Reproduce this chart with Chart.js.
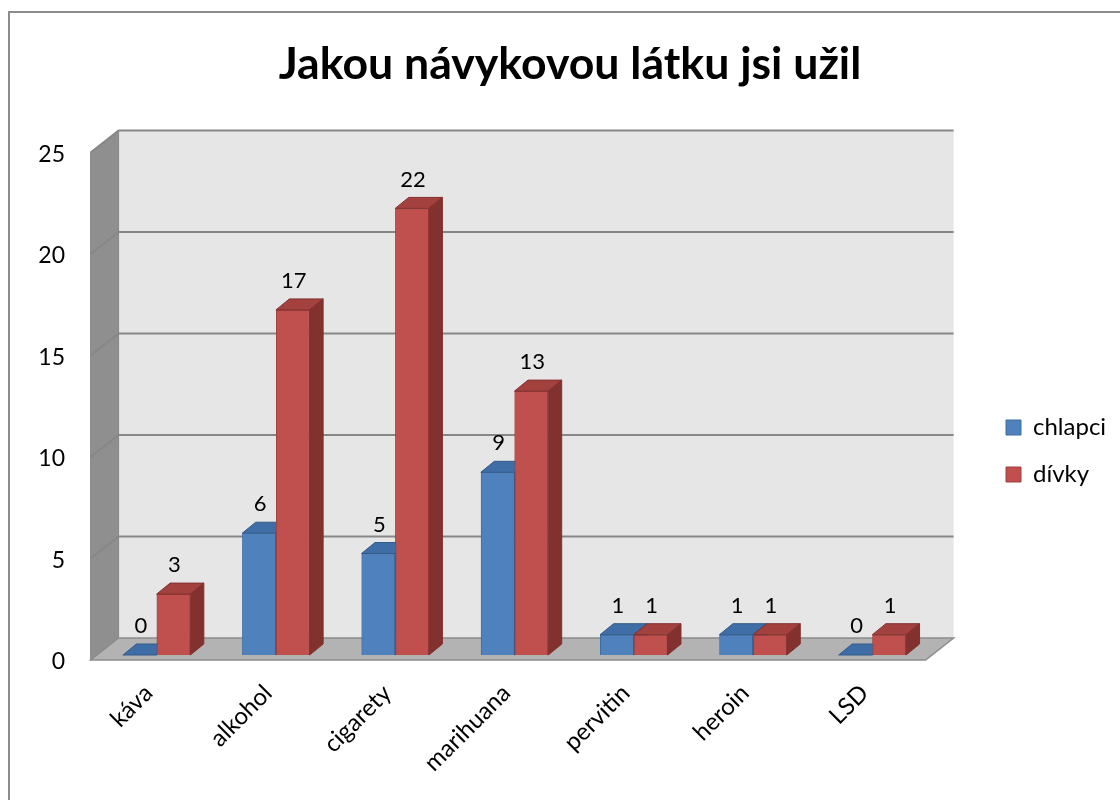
<!DOCTYPE html>
<html>
<head>
<meta charset="utf-8">
<script src="https://cdn.jsdelivr.net/npm/chart.js@4/dist/chart.umd.min.js"></script>
<style>
html,body{margin:0;padding:0;background:#fff;}
canvas{display:block;}
</style>
</head>
<body>
<canvas id="c" width="1120" height="800"></canvas>
<script>
// ---- data ----
const categories = ['káva', 'alkohol', 'cigarety', 'marihuana', 'pervitin', 'heroin', 'LSD'];
const chlapci = [0, 6, 5, 9, 1, 1, 0];
const divky = [3, 17, 22, 13, 1, 1, 1];
const seriesNames = ['chlapci', 'dívky'];
const yTickStep = 5;
const yMax = 25;
const titleText = 'Jakou návykovou látku jsi užil';

// ---- styles ----
const FONT = 'Lato';
const colors = [
  {front: '#4F81BD', border: '#3D6CA3', top: '#3F6DA5', side: '#335A88'},
  {front: '#C0504D', border: '#A03F3C', top: '#A2413E', side: '#82312F'}
];
const barDepth = {x: 13.5, y: -11};
const frontOff = {x: -6.4, y: 5};
const backOff = {x: 21.6, y: -17};
const plotLeft = 97;
const plotRight = 932;
const titleCenter = 570;
const legendPad = 23;
const legendFont = 24;

const mctx = document.createElement('canvas').getContext('2d');
mctx.font = legendFont + 'px ' + FONT;
const legendTextW = Math.max(...seriesNames.map(s => mctx.measureText(s).width));
const legendW = legendPad + 15 + legendFont / 2 + legendTextW + 10;
const padRight = 1120 - plotRight - legendW;

function poly(ctx, pts, fill, stroke, lw) {
  ctx.beginPath();
  ctx.moveTo(pts[0][0], pts[0][1]);
  for (let i = 1; i < pts.length; i++) ctx.lineTo(pts[i][0], pts[i][1]);
  ctx.closePath();
  if (fill) { ctx.fillStyle = fill; ctx.fill(); }
  if (stroke) { ctx.strokeStyle = stroke; ctx.lineWidth = lw || 1; ctx.stroke(); }
}

const scene3d = {
  id: 'scene3d',
  afterLayout(chart) {
    const lg = chart.legend;
    if (lg) {
      const dx = chart.chartArea.right + 74 - legendPad - lg.left;
      lg.left += dx; lg.right += dx;
      lg.top += 51; lg.bottom += 51;
    }
    const tb = chart.titleBlock;
    if (tb) {
      const dx = titleCenter - (tb.left + tb.right) / 2;
      tb.left += dx; tb.right += dx;
    }
  },
  beforeDraw(chart) {
    const ctx = chart.ctx;
    ctx.save();
    ctx.strokeStyle = '#8C8C8C';
    ctx.lineWidth = 2;
    ctx.strokeRect(9, 12, 1300, 1000);
    ctx.restore();
  },
  beforeDatasetsDraw(chart) {
    const {ctx, chartArea: a} = chart;
    const ys = chart.scales.y;
    const y0 = ys.getPixelForValue(ys.min);
    const yT = ys.getPixelForValue(ys.max);
    ctx.save();
    // back wall
    poly(ctx, [[a.left + backOff.x, yT + backOff.y], [a.right + backOff.x, yT + backOff.y],
               [a.right + backOff.x, y0 + backOff.y], [a.left + backOff.x, y0 + backOff.y]], '#E6E6E6');
    // side wall
    poly(ctx, [[a.left + frontOff.x, yT + frontOff.y], [a.left + backOff.x, yT + backOff.y],
               [a.left + backOff.x, y0 + backOff.y], [a.left + frontOff.x, y0 + frontOff.y]], '#8F8F8F', '#868686', 1);
    // floor
    poly(ctx, [[a.left + frontOff.x, y0 + frontOff.y], [a.left + backOff.x, y0 + backOff.y],
               [a.right + backOff.x, y0 + backOff.y], [a.right + frontOff.x, y0 + frontOff.y]], '#B3B3B3', '#8C8C8C', 1.5);
    // gridlines
    ctx.strokeStyle = '#878787';
    ctx.lineWidth = 2;
    ys.ticks.forEach(t => {
      if (t.value === ys.min) return;
      const py = ys.getPixelForValue(t.value);
      ctx.beginPath();
      ctx.moveTo(a.left + frontOff.x, py + frontOff.y);
      ctx.lineTo(a.left + backOff.x, py + backOff.y);
      ctx.lineTo(a.right + backOff.x, py + backOff.y);
      ctx.stroke();
    });
    ctx.restore();
  },
  afterDatasetsDraw(chart) {
    const ctx = chart.ctx;
    ctx.save();
    const n = categories.length;
    for (let i = 0; i < n; i++) {
      for (let d = 0; d < chart.data.datasets.length; d++) {
        const el = chart.getDatasetMeta(d).data[i];
        if (!el) continue;
        el.draw(ctx);
        const p = el.getProps(['x', 'y', 'base', 'width'], true);
        const l = p.x - p.width / 2, r = p.x + p.width / 2, t = p.y, b = p.base;
        const c = colors[d];
        // top face
        poly(ctx, [[l, t], [r, t], [r + barDepth.x, t + barDepth.y], [l + barDepth.x, t + barDepth.y]], c.top, c.side, 1);
        // side face
        if (b - t > 0.5) {
          poly(ctx, [[r, t], [r + barDepth.x, t + barDepth.y], [r + barDepth.x, b + barDepth.y], [r, b]], c.side, c.side, 1);
        }
      }
    }
    // value labels
    ctx.fillStyle = '#000';
    ctx.font = '22px ' + FONT;
    ctx.textAlign = 'center';
    ctx.textBaseline = 'middle';
    chart.data.datasets.forEach((ds, d) => {
      chart.getDatasetMeta(d).data.forEach((el, i) => {
        const p = el.getProps(['x', 'y'], true);
        ctx.fillText(String(ds.data[i]), p.x + 1, p.y - 29);
      });
    });
    ctx.restore();
  }
};

new Chart(document.getElementById('c'), {
  type: 'bar',
  data: {
    labels: categories,
    datasets: [
      {label: seriesNames[0], data: chlapci, backgroundColor: colors[0].front, borderColor: colors[0].border, borderWidth: 1},
      {label: seriesNames[1], data: divky, backgroundColor: colors[1].front, borderColor: colors[1].border, borderWidth: 1}
    ]
  },
  options: {
    responsive: false,
    animation: false,
    devicePixelRatio: 1,
    events: [],
    layout: {padding: {left: 0, top: 0, bottom: 0, right: padRight}},
    datasets: {bar: {barPercentage: 1, categoryPercentage: 0.565}},
    plugins: {
      tooltip: {enabled: false},
      title: {
        display: true,
        text: titleText,
        color: '#000',
        font: {family: FONT, size: 44.6, weight: 'bold'},
        padding: {top: 38, bottom: 56}
      },
      legend: {
        position: 'right',
        labels: {
          boxWidth: 15,
          boxHeight: 15,
          padding: legendPad,
          color: '#000',
          font: {family: FONT, size: legendFont}
        }
      }
    },
    scales: {
      x: {
        grid: {display: false, drawTicks: false},
        border: {display: false},
        ticks: {
          autoSkip: false, maxRotation: 45, minRotation: 45,
          color: '#000', font: {family: FONT, size: 24},
          padding: 24, labelOffset: -8
        },
        afterFit(s) { s.height = 145; }
      },
      y: {
        min: 0, max: yMax,
        grid: {display: false, drawTicks: false},
        border: {display: false},
        ticks: {
          stepSize: yTickStep,
          color: '#000', font: {family: FONT, size: 23},
          padding: 32, labelOffset: 7
        },
        afterFit(s) { s.width = plotLeft; }
      }
    }
  },
  plugins: [scene3d]
});
</script>
</body>
</html>
